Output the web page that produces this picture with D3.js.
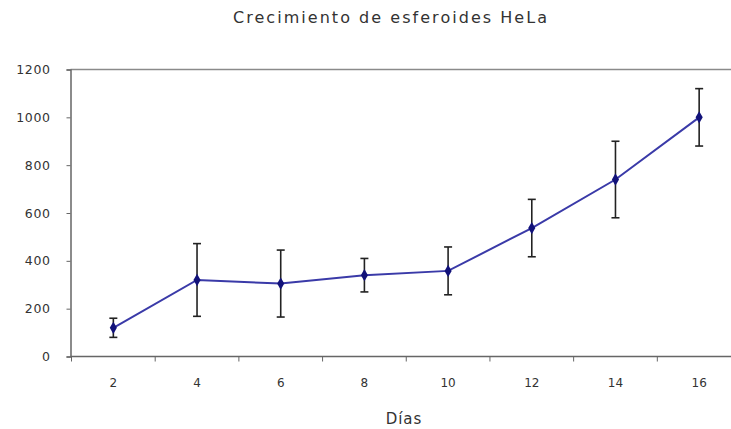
<!DOCTYPE html>
<html>
<head>
<meta charset="utf-8">
<script src="https://cdn.jsdelivr.net/npm/d3@7"></script>
<style>
  html, body { margin: 0; padding: 0; background: #fff; }
  svg { display: block; }
  text { font-family: "DejaVu Sans", sans-serif; fill: #333; }
</style>
</head>
<body>
<svg id="chart" width="731" height="429"></svg>
<script>
// Spheroid growth: mean size per day with error bars
const days = [2, 4, 6, 8, 10, 12, 14, 16];
const means = [120, 320, 305, 340, 358, 537, 740, 1000];
const errors = [40, 152, 140, 70, 100, 120, 160, 120];
const yTicks = [0, 200, 400, 600, 800, 1000, 1200];

const svg = d3.select("#chart");
const W = 731, H = 429;

const plot = { left: 70.5, top: 69.5, bottom: 356.5, right: 741 };

const x = d3.scaleBand()
  .domain(days)
  .range([plot.left + 1, plot.right])
  .paddingInner(0)
  .paddingOuter(0);

const y = d3.scaleLinear()
  .domain([0, 1200])
  .range([plot.bottom, plot.top]);

const cx = d => x(d) + x.bandwidth() / 2;

// Title
svg.append("text")
  .attr("x", 390)
  .attr("y", 23)
  .attr("text-anchor", "middle")
  .attr("textLength", 314)
  .attr("lengthAdjust", "spacing")
  .style("font-size", "16px")
  .text("Crecimiento de esferoides HeLa");

// Plot frame: top border
svg.append("line")
  .attr("x1", plot.left).attr("x2", W)
  .attr("y1", plot.top).attr("y2", plot.top)
  .attr("stroke", "#8a8a8a").attr("stroke-width", 1.5);

// Y axis
const yAxis = d3.axisLeft(y).tickValues(yTicks).tickFormat(d3.format("d"))
  .tickSize(4).tickPadding(16);
const gy = svg.append("g")
  .attr("transform", `translate(${plot.left},0)`)
  .call(yAxis);
gy.select(".domain").attr("stroke", "#666").attr("stroke-width", 1.5);
gy.selectAll(".tick line").attr("stroke", "#666");
gy.selectAll(".tick text")
  .style("font-size", "12.5px")
  .style("letter-spacing", "0.6px")
  .style("font-family", "DejaVu Sans, sans-serif")
  .attr("fill", "#555");

// X axis: category labels centered, tick marks between categories
const xAxis = d3.axisBottom(x).tickSize(0).tickPadding(22);
const gx = svg.append("g")
  .attr("transform", `translate(0,${plot.bottom})`)
  .call(xAxis);
gx.select(".domain").remove();
gx.selectAll(".tick text")
  .style("font-size", "12px")
  .style("font-family", "DejaVu Sans, sans-serif")
  .attr("fill", "#444");

svg.append("line")
  .attr("x1", plot.left).attr("x2", W)
  .attr("y1", plot.bottom).attr("y2", plot.bottom)
  .attr("stroke", "#666").attr("stroke-width", 1.5);

svg.append("g").selectAll("line")
  .data(days)
  .join("line")
  .attr("x1", d => x(d)).attr("x2", d => x(d))
  .attr("y1", plot.bottom).attr("y2", plot.bottom + 5)
  .attr("stroke", "#666");

// X axis title
svg.append("text")
  .attr("x", 404)
  .attr("y", 424)
  .attr("text-anchor", "middle")
  .style("font-size", "15px")
  .style("letter-spacing", "1px")
  .text("Días");

// Error bars
const eb = svg.append("g").attr("stroke", "#222").attr("stroke-width", 1.6);
days.forEach((d, i) => {
  const hi = y(means[i] + errors[i]);
  const lo = y(means[i] - errors[i]);
  const xc = cx(d);
  eb.append("line").attr("x1", xc).attr("x2", xc).attr("y1", hi).attr("y2", lo);
  eb.append("line").attr("x1", xc - 4).attr("x2", xc + 4).attr("y1", hi).attr("y2", hi);
  eb.append("line").attr("x1", xc - 4).attr("x2", xc + 4).attr("y1", lo).attr("y2", lo);
});

// Series line
const line = d3.line()
  .x((d, i) => cx(days[i]))
  .y(d => y(d));
svg.append("path")
  .datum(means)
  .attr("d", line)
  .attr("fill", "none")
  .attr("stroke", "#3a3aa8")
  .attr("stroke-width", 2);

// Diamond markers
svg.append("g").selectAll("path")
  .data(means)
  .join("path")
  .attr("transform", (d, i) => `translate(${cx(days[i])},${y(d)})`)
  .attr("d", d3.symbol(d3.symbolDiamond, 44))
  .attr("fill", "#12127a");
</script>
</body>
</html>
